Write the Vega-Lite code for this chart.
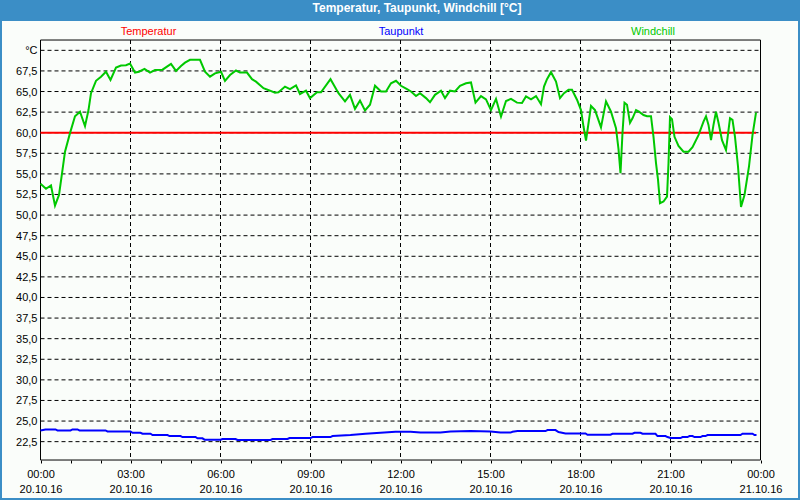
{
  "$schema": "https://vega.github.io/schema/vega-lite/v6.json",
  "background": "#3b8ec6",
  "autosize": {"type": "none"},
  "padding": {"left": 2, "right": 2, "top": 21, "bottom": 2},
  "width": 796,
  "height": 477,
  "title": {"text": "Temperatur, Taupunkt, Windchill [°C]", "color": "#ffffff", "font": "Liberation Sans", "fontSize": 12, "fontWeight": "bold", "anchor": "middle", "baseline": "middle", "offset": 1, "dx": 17, "frame": "group"},
  "datasets": {
    "grid": [{"g":22.5,"lab":"22,5"},{"g":25,"lab":"25,0"},{"g":27.5,"lab":"27,5"},{"g":30,"lab":"30,0"},{"g":32.5,"lab":"32,5"},{"g":35,"lab":"35,0"},{"g":37.5,"lab":"37,5"},{"g":40,"lab":"40,0"},{"g":42.5,"lab":"42,5"},{"g":45,"lab":"45,0"},{"g":47.5,"lab":"47,5"},{"g":50,"lab":"50,0"},{"g":52.5,"lab":"52,5"},{"g":55,"lab":"55,0"},{"g":57.5,"lab":"57,5"},{"g":60,"lab":"60,0"},{"g":62.5,"lab":"62,5"},{"g":65,"lab":"65,0"},{"g":67.5,"lab":"67,5"},{"g":70,"lab":"°C"}]
  },
  "layer": [
    {
      "data": {"name": "grid"},
      "mark": {"type": "rule", "color": "#000000", "strokeWidth": 1, "strokeDash": [4, 3]},
      "encoding": {
        "y": {"field": "g", "type": "quantitative", "axis": null},
        "x": {"datum": {"year": 2016, "month": 10, "date": 20, "hours": 0}, "type": "temporal", "axis": null},
        "x2": {"datum": {"year": 2016, "month": 10, "date": 21, "hours": 0}}
      }
    },
    {
      "data": {"name": "grid"},
      "mark": {"type": "text", "align": "right", "baseline": "middle", "dx": -3, "dy": 1, "font": "Liberation Sans", "fontSize": 11, "color": "#000000"},
      "encoding": {
        "y": {"field": "g", "type": "quantitative", "axis": null},
        "x": {"datum": {"year": 2016, "month": 10, "date": 20, "hours": 0}, "type": "temporal", "axis": null},
        "text": {"field": "lab", "type": "nominal"}
      }
    },
    {
      "data": {"values": [{"h":"2016-10-20T03:00"},{"h":"2016-10-20T06:00"},{"h":"2016-10-20T09:00"},{"h":"2016-10-20T12:00"},{"h":"2016-10-20T15:00"},{"h":"2016-10-20T18:00"},{"h":"2016-10-20T21:00"}]},
      "mark": {"type": "rule", "color": "#000000", "strokeWidth": 1, "strokeDash": [4, 3]},
      "encoding": {
        "x": {
          "field": "h", "type": "temporal",
          "axis": {
            "orient": "top", "offset": -19,
            "values": [{"year": 2016, "month": 10, "date": 20, "hours": 3, "minutes": 35}, {"year": 2016, "month": 10, "date": 20, "hours": 12, "minutes": 0}, {"year": 2016, "month": 10, "date": 20, "hours": 20, "minutes": 24}],
            "labelExpr": "hours(datum.value) == 3 ? 'Temperatur' : hours(datum.value) == 12 ? 'Taupunkt' : 'Windchill'",
            "labelColor": {"condition": [{"test": "hours(datum.value) == 3", "value": "#ff0000"}, {"test": "hours(datum.value) == 12", "value": "#0000ff"}], "value": "#00c800"},
            "ticks": false, "domain": false, "grid": false,
            "labelPadding": 6, "labelBaseline": "alphabetic",
            "labelOverlap": false, "labelFlush": false, "labelBound": false,
            "title": null
          }
        },
        "y": {"datum": 71.25, "type": "quantitative", "axis": null},
        "y2": {"datum": 20.27}
      }
    },
    {
      "data": {"values": [{"frame": "plot"}]},
      "mark": {"type": "rect", "filled": false, "stroke": "#000000", "strokeWidth": 1},
      "encoding": {
        "x": {"datum": {"year": 2016, "month": 10, "date": 20, "hours": 0}, "type": "temporal", "axis": null},
        "x2": {"datum": {"year": 2016, "month": 10, "date": 21, "hours": 0}},
        "y": {"datum": 71.25, "type": "quantitative", "axis": null},
        "y2": {"datum": 20.27}
      }
    },
    {
      "data": {"values": [
        {"t":"2016-10-20T00:00","s":"Temperatur","v":60},{"t":"2016-10-20T01:00","s":"Temperatur","v":60},{"t":"2016-10-20T02:00","s":"Temperatur","v":60},{"t":"2016-10-20T03:00","s":"Temperatur","v":60},{"t":"2016-10-20T04:00","s":"Temperatur","v":60},{"t":"2016-10-20T05:00","s":"Temperatur","v":60},{"t":"2016-10-20T06:00","s":"Temperatur","v":60},{"t":"2016-10-20T07:00","s":"Temperatur","v":60},{"t":"2016-10-20T08:00","s":"Temperatur","v":60},{"t":"2016-10-20T09:00","s":"Temperatur","v":60},{"t":"2016-10-20T10:00","s":"Temperatur","v":60},{"t":"2016-10-20T11:00","s":"Temperatur","v":60},{"t":"2016-10-20T12:00","s":"Temperatur","v":60},{"t":"2016-10-20T13:00","s":"Temperatur","v":60},{"t":"2016-10-20T14:00","s":"Temperatur","v":60},{"t":"2016-10-20T15:00","s":"Temperatur","v":60},{"t":"2016-10-20T16:00","s":"Temperatur","v":60},{"t":"2016-10-20T17:00","s":"Temperatur","v":60},{"t":"2016-10-20T18:00","s":"Temperatur","v":60},{"t":"2016-10-20T19:00","s":"Temperatur","v":60},{"t":"2016-10-20T20:00","s":"Temperatur","v":60},{"t":"2016-10-20T21:00","s":"Temperatur","v":60},{"t":"2016-10-20T22:00","s":"Temperatur","v":60},{"t":"2016-10-20T23:00","s":"Temperatur","v":60},{"t":"2016-10-20T23:51","s":"Temperatur","v":60},
        {"t":"2016-10-20T00:00","s":"Taupunkt","v":23.86},{"t":"2016-10-20T00:10","s":"Taupunkt","v":23.98},{"t":"2016-10-20T00:30","s":"Taupunkt","v":23.98},{"t":"2016-10-20T00:34","s":"Taupunkt","v":23.86},{"t":"2016-10-20T01:00","s":"Taupunkt","v":23.86},{"t":"2016-10-20T01:04","s":"Taupunkt","v":23.98},{"t":"2016-10-20T01:14","s":"Taupunkt","v":23.98},{"t":"2016-10-20T01:18","s":"Taupunkt","v":23.86},{"t":"2016-10-20T02:10","s":"Taupunkt","v":23.86},{"t":"2016-10-20T02:14","s":"Taupunkt","v":23.74},{"t":"2016-10-20T03:00","s":"Taupunkt","v":23.74},{"t":"2016-10-20T03:04","s":"Taupunkt","v":23.58},{"t":"2016-10-20T03:20","s":"Taupunkt","v":23.58},{"t":"2016-10-20T03:24","s":"Taupunkt","v":23.46},{"t":"2016-10-20T03:40","s":"Taupunkt","v":23.46},{"t":"2016-10-20T03:44","s":"Taupunkt","v":23.3},{"t":"2016-10-20T04:14","s":"Taupunkt","v":23.3},{"t":"2016-10-20T04:18","s":"Taupunkt","v":23.18},{"t":"2016-10-20T04:40","s":"Taupunkt","v":23.18},{"t":"2016-10-20T04:44","s":"Taupunkt","v":23.06},{"t":"2016-10-20T05:10","s":"Taupunkt","v":23.06},{"t":"2016-10-20T05:14","s":"Taupunkt","v":22.9},{"t":"2016-10-20T05:24","s":"Taupunkt","v":22.9},{"t":"2016-10-20T05:28","s":"Taupunkt","v":22.74},{"t":"2016-10-20T06:00","s":"Taupunkt","v":22.74},{"t":"2016-10-20T06:04","s":"Taupunkt","v":22.82},{"t":"2016-10-20T06:30","s":"Taupunkt","v":22.82},{"t":"2016-10-20T06:34","s":"Taupunkt","v":22.7},{"t":"2016-10-20T07:40","s":"Taupunkt","v":22.7},{"t":"2016-10-20T07:44","s":"Taupunkt","v":22.82},{"t":"2016-10-20T08:14","s":"Taupunkt","v":22.82},{"t":"2016-10-20T08:18","s":"Taupunkt","v":22.94},{"t":"2016-10-20T09:00","s":"Taupunkt","v":22.94},{"t":"2016-10-20T09:04","s":"Taupunkt","v":23.06},{"t":"2016-10-20T09:40","s":"Taupunkt","v":23.06},{"t":"2016-10-20T09:44","s":"Taupunkt","v":23.18},{"t":"2016-10-20T10:20","s":"Taupunkt","v":23.3},{"t":"2016-10-20T10:50","s":"Taupunkt","v":23.46},{"t":"2016-10-20T11:20","s":"Taupunkt","v":23.58},{"t":"2016-10-20T11:50","s":"Taupunkt","v":23.7},{"t":"2016-10-20T12:20","s":"Taupunkt","v":23.7},{"t":"2016-10-20T12:40","s":"Taupunkt","v":23.6},{"t":"2016-10-20T13:20","s":"Taupunkt","v":23.6},{"t":"2016-10-20T13:40","s":"Taupunkt","v":23.74},{"t":"2016-10-20T14:20","s":"Taupunkt","v":23.8},{"t":"2016-10-20T15:00","s":"Taupunkt","v":23.74},{"t":"2016-10-20T15:20","s":"Taupunkt","v":23.6},{"t":"2016-10-20T15:40","s":"Taupunkt","v":23.6},{"t":"2016-10-20T15:44","s":"Taupunkt","v":23.7},{"t":"2016-10-20T15:54","s":"Taupunkt","v":23.78},{"t":"2016-10-20T16:50","s":"Taupunkt","v":23.78},{"t":"2016-10-20T16:54","s":"Taupunkt","v":23.9},{"t":"2016-10-20T17:10","s":"Taupunkt","v":23.9},{"t":"2016-10-20T17:16","s":"Taupunkt","v":23.66},{"t":"2016-10-20T17:30","s":"Taupunkt","v":23.5},{"t":"2016-10-20T18:10","s":"Taupunkt","v":23.5},{"t":"2016-10-20T18:14","s":"Taupunkt","v":23.34},{"t":"2016-10-20T19:00","s":"Taupunkt","v":23.34},{"t":"2016-10-20T19:04","s":"Taupunkt","v":23.46},{"t":"2016-10-20T19:44","s":"Taupunkt","v":23.46},{"t":"2016-10-20T19:48","s":"Taupunkt","v":23.58},{"t":"2016-10-20T20:00","s":"Taupunkt","v":23.58},{"t":"2016-10-20T20:04","s":"Taupunkt","v":23.46},{"t":"2016-10-20T20:30","s":"Taupunkt","v":23.46},{"t":"2016-10-20T20:34","s":"Taupunkt","v":23.18},{"t":"2016-10-20T20:50","s":"Taupunkt","v":23.18},{"t":"2016-10-20T20:54","s":"Taupunkt","v":23.06},{"t":"2016-10-20T21:00","s":"Taupunkt","v":22.94},{"t":"2016-10-20T21:20","s":"Taupunkt","v":22.94},{"t":"2016-10-20T21:24","s":"Taupunkt","v":23.06},{"t":"2016-10-20T21:34","s":"Taupunkt","v":23.06},{"t":"2016-10-20T21:38","s":"Taupunkt","v":23.18},{"t":"2016-10-20T21:44","s":"Taupunkt","v":23.18},{"t":"2016-10-20T21:48","s":"Taupunkt","v":23.06},{"t":"2016-10-20T22:00","s":"Taupunkt","v":23.06},{"t":"2016-10-20T22:04","s":"Taupunkt","v":23.18},{"t":"2016-10-20T22:10","s":"Taupunkt","v":23.18},{"t":"2016-10-20T22:14","s":"Taupunkt","v":23.3},{"t":"2016-10-20T23:20","s":"Taupunkt","v":23.3},{"t":"2016-10-20T23:24","s":"Taupunkt","v":23.46},{"t":"2016-10-20T23:44","s":"Taupunkt","v":23.46},{"t":"2016-10-20T23:48","s":"Taupunkt","v":23.3},{"t":"2016-10-20T23:52","s":"Taupunkt","v":23.3},
        {"t":"2016-10-20T00:00","s":"Windchill","v":53.8},{"t":"2016-10-20T00:11","s":"Windchill","v":53.2},{"t":"2016-10-20T00:21","s":"Windchill","v":53.6},{"t":"2016-10-20T00:29","s":"Windchill","v":51.15},{"t":"2016-10-20T00:37","s":"Windchill","v":52.45},{"t":"2016-10-20T00:44","s":"Windchill","v":55.5},{"t":"2016-10-20T00:49","s":"Windchill","v":57.7},{"t":"2016-10-20T00:59","s":"Windchill","v":59.95},{"t":"2016-10-20T01:09","s":"Windchill","v":62.0},{"t":"2016-10-20T01:19","s":"Windchill","v":62.55},{"t":"2016-10-20T01:29","s":"Windchill","v":60.8},{"t":"2016-10-20T01:36","s":"Windchill","v":62.75},{"t":"2016-10-20T01:41","s":"Windchill","v":64.8},{"t":"2016-10-20T01:51","s":"Windchill","v":66.3},{"t":"2016-10-20T02:01","s":"Windchill","v":66.8},{"t":"2016-10-20T02:11","s":"Windchill","v":67.4},{"t":"2016-10-20T02:20","s":"Windchill","v":66.4},{"t":"2016-10-20T02:31","s":"Windchill","v":67.9},{"t":"2016-10-20T02:41","s":"Windchill","v":68.15},{"t":"2016-10-20T02:51","s":"Windchill","v":68.2},{"t":"2016-10-20T02:59","s":"Windchill","v":68.4},{"t":"2016-10-20T03:09","s":"Windchill","v":67.3},{"t":"2016-10-20T03:17","s":"Windchill","v":67.4},{"t":"2016-10-20T03:28","s":"Windchill","v":67.75},{"t":"2016-10-20T03:39","s":"Windchill","v":67.3},{"t":"2016-10-20T03:49","s":"Windchill","v":67.6},{"t":"2016-10-20T04:04","s":"Windchill","v":67.65},{"t":"2016-10-20T04:21","s":"Windchill","v":68.35},{"t":"2016-10-20T04:31","s":"Windchill","v":67.5},{"t":"2016-10-20T04:41","s":"Windchill","v":68.1},{"t":"2016-10-20T04:49","s":"Windchill","v":68.5},{"t":"2016-10-20T04:59","s":"Windchill","v":68.85},{"t":"2016-10-20T05:19","s":"Windchill","v":68.85},{"t":"2016-10-20T05:29","s":"Windchill","v":67.4},{"t":"2016-10-20T05:39","s":"Windchill","v":66.8},{"t":"2016-10-20T05:49","s":"Windchill","v":67.2},{"t":"2016-10-20T06:01","s":"Windchill","v":67.4},{"t":"2016-10-20T06:09","s":"Windchill","v":66.3},{"t":"2016-10-20T06:19","s":"Windchill","v":67.0},{"t":"2016-10-20T06:31","s":"Windchill","v":67.55},{"t":"2016-10-20T06:39","s":"Windchill","v":67.3},{"t":"2016-10-20T06:53","s":"Windchill","v":67.3},{"t":"2016-10-20T07:03","s":"Windchill","v":66.5},{"t":"2016-10-20T07:11","s":"Windchill","v":66.2},{"t":"2016-10-20T07:26","s":"Windchill","v":65.4},{"t":"2016-10-20T07:39","s":"Windchill","v":65.1},{"t":"2016-10-20T07:49","s":"Windchill","v":64.85},{"t":"2016-10-20T07:56","s":"Windchill","v":64.9},{"t":"2016-10-20T08:09","s":"Windchill","v":65.6},{"t":"2016-10-20T08:19","s":"Windchill","v":65.3},{"t":"2016-10-20T08:31","s":"Windchill","v":65.75},{"t":"2016-10-20T08:39","s":"Windchill","v":64.7},{"t":"2016-10-20T08:51","s":"Windchill","v":65.1},{"t":"2016-10-20T08:59","s":"Windchill","v":64.2},{"t":"2016-10-20T09:13","s":"Windchill","v":64.9},{"t":"2016-10-20T09:21","s":"Windchill","v":64.9},{"t":"2016-10-20T09:40","s":"Windchill","v":66.5},{"t":"2016-10-20T09:56","s":"Windchill","v":64.8},{"t":"2016-10-20T10:09","s":"Windchill","v":63.8},{"t":"2016-10-20T10:19","s":"Windchill","v":64.6},{"t":"2016-10-20T10:29","s":"Windchill","v":62.9},{"t":"2016-10-20T10:39","s":"Windchill","v":63.9},{"t":"2016-10-20T10:49","s":"Windchill","v":62.7},{"t":"2016-10-20T10:59","s":"Windchill","v":63.4},{"t":"2016-10-20T11:09","s":"Windchill","v":65.7},{"t":"2016-10-20T11:21","s":"Windchill","v":65.0},{"t":"2016-10-20T11:31","s":"Windchill","v":65.0},{"t":"2016-10-20T11:41","s":"Windchill","v":66.0},{"t":"2016-10-20T11:51","s":"Windchill","v":66.3},{"t":"2016-10-20T12:01","s":"Windchill","v":65.7},{"t":"2016-10-20T12:13","s":"Windchill","v":65.3},{"t":"2016-10-20T12:21","s":"Windchill","v":65.0},{"t":"2016-10-20T12:31","s":"Windchill","v":64.45},{"t":"2016-10-20T12:39","s":"Windchill","v":64.8},{"t":"2016-10-20T12:51","s":"Windchill","v":64.2},{"t":"2016-10-20T12:59","s":"Windchill","v":63.7},{"t":"2016-10-20T13:09","s":"Windchill","v":64.6},{"t":"2016-10-20T13:21","s":"Windchill","v":65.1},{"t":"2016-10-20T13:29","s":"Windchill","v":64.2},{"t":"2016-10-20T13:39","s":"Windchill","v":65.1},{"t":"2016-10-20T13:49","s":"Windchill","v":65.0},{"t":"2016-10-20T13:59","s":"Windchill","v":65.7},{"t":"2016-10-20T14:11","s":"Windchill","v":66.0},{"t":"2016-10-20T14:21","s":"Windchill","v":66.1},{"t":"2016-10-20T14:25","s":"Windchill","v":65.0},{"t":"2016-10-20T14:30","s":"Windchill","v":63.65},{"t":"2016-10-20T14:41","s":"Windchill","v":64.45},{"t":"2016-10-20T14:51","s":"Windchill","v":64.05},{"t":"2016-10-20T15:01","s":"Windchill","v":62.75},{"t":"2016-10-20T15:11","s":"Windchill","v":64.1},{"t":"2016-10-20T15:21","s":"Windchill","v":61.95},{"t":"2016-10-20T15:31","s":"Windchill","v":63.85},{"t":"2016-10-20T15:41","s":"Windchill","v":64.1},{"t":"2016-10-20T15:53","s":"Windchill","v":63.65},{"t":"2016-10-20T16:03","s":"Windchill","v":63.6},{"t":"2016-10-20T16:11","s":"Windchill","v":64.4},{"t":"2016-10-20T16:21","s":"Windchill","v":64.05},{"t":"2016-10-20T16:31","s":"Windchill","v":64.45},{"t":"2016-10-20T16:41","s":"Windchill","v":63.45},{"t":"2016-10-20T16:47","s":"Windchill","v":65.6},{"t":"2016-10-20T16:53","s":"Windchill","v":66.5},{"t":"2016-10-20T17:01","s":"Windchill","v":67.35},{"t":"2016-10-20T17:11","s":"Windchill","v":66.2},{"t":"2016-10-20T17:19","s":"Windchill","v":64.2},{"t":"2016-10-20T17:27","s":"Windchill","v":64.8},{"t":"2016-10-20T17:36","s":"Windchill","v":65.2},{"t":"2016-10-20T17:43","s":"Windchill","v":65.2},{"t":"2016-10-20T17:53","s":"Windchill","v":64.0},{"t":"2016-10-20T18:01","s":"Windchill","v":62.75},{"t":"2016-10-20T18:06","s":"Windchill","v":60.75},{"t":"2016-10-20T18:11","s":"Windchill","v":59.05},{"t":"2016-10-20T18:16","s":"Windchill","v":61.15},{"t":"2016-10-20T18:21","s":"Windchill","v":63.25},{"t":"2016-10-20T18:29","s":"Windchill","v":62.75},{"t":"2016-10-20T18:41","s":"Windchill","v":60.65},{"t":"2016-10-20T18:51","s":"Windchill","v":63.8},{"t":"2016-10-20T19:01","s":"Windchill","v":62.55},{"t":"2016-10-20T19:11","s":"Windchill","v":60.55},{"t":"2016-10-20T19:16","s":"Windchill","v":58.0},{"t":"2016-10-20T19:20","s":"Windchill","v":55.1},{"t":"2016-10-20T19:24","s":"Windchill","v":60.0},{"t":"2016-10-20T19:28","s":"Windchill","v":63.65},{"t":"2016-10-20T19:33","s":"Windchill","v":63.4},{"t":"2016-10-20T19:39","s":"Windchill","v":61.2},{"t":"2016-10-20T19:44","s":"Windchill","v":61.75},{"t":"2016-10-20T19:51","s":"Windchill","v":62.75},{"t":"2016-10-20T19:57","s":"Windchill","v":62.55},{"t":"2016-10-20T20:06","s":"Windchill","v":62.15},{"t":"2016-10-20T20:13","s":"Windchill","v":62.0},{"t":"2016-10-20T20:21","s":"Windchill","v":62.0},{"t":"2016-10-20T20:26","s":"Windchill","v":59.5},{"t":"2016-10-20T20:31","s":"Windchill","v":56.3},{"t":"2016-10-20T20:35","s":"Windchill","v":54.3},{"t":"2016-10-20T20:39","s":"Windchill","v":51.45},{"t":"2016-10-20T20:46","s":"Windchill","v":51.65},{"t":"2016-10-20T20:53","s":"Windchill","v":52.25},{"t":"2016-10-20T20:56","s":"Windchill","v":56.3},{"t":"2016-10-20T20:59","s":"Windchill","v":61.9},{"t":"2016-10-20T21:03","s":"Windchill","v":61.65},{"t":"2016-10-20T21:08","s":"Windchill","v":59.5},{"t":"2016-10-20T21:16","s":"Windchill","v":58.4},{"t":"2016-10-20T21:26","s":"Windchill","v":57.7},{"t":"2016-10-20T21:36","s":"Windchill","v":57.7},{"t":"2016-10-20T21:44","s":"Windchill","v":58.25},{"t":"2016-10-20T21:56","s":"Windchill","v":59.7},{"t":"2016-10-20T22:06","s":"Windchill","v":61.35},{"t":"2016-10-20T22:11","s":"Windchill","v":62.0},{"t":"2016-10-20T22:16","s":"Windchill","v":60.95},{"t":"2016-10-20T22:21","s":"Windchill","v":59.1},{"t":"2016-10-20T22:26","s":"Windchill","v":60.95},{"t":"2016-10-20T22:31","s":"Windchill","v":62.55},{"t":"2016-10-20T22:36","s":"Windchill","v":61.2},{"t":"2016-10-20T22:43","s":"Windchill","v":59.1},{"t":"2016-10-20T22:51","s":"Windchill","v":57.9},{"t":"2016-10-20T22:59","s":"Windchill","v":61.75},{"t":"2016-10-20T23:04","s":"Windchill","v":61.55},{"t":"2016-10-20T23:09","s":"Windchill","v":59.5},{"t":"2016-10-20T23:15","s":"Windchill","v":55.9},{"t":"2016-10-20T23:21","s":"Windchill","v":51.0},{"t":"2016-10-20T23:28","s":"Windchill","v":52.45},{"t":"2016-10-20T23:37","s":"Windchill","v":55.9},{"t":"2016-10-20T23:44","s":"Windchill","v":59.7},{"t":"2016-10-20T23:51","s":"Windchill","v":62.45}
      ]},
      "mark": {"type": "line", "strokeWidth": 2},
      "encoding": {
        "x": {
          "field": "t", "type": "temporal",
          "scale": {"domain": [{"year": 2016, "month": 10, "date": 19, "hours": 22, "minutes": 43}, {"year": 2016, "month": 10, "date": 21, "hours": 1, "minutes": 15}], "nice": false},
          "axis": {
            "orient": "bottom", "offset": -38,
            "values": [
              {"year":2016,"month":10,"date":20,"hours":0},{"year":2016,"month":10,"date":20,"hours":1},{"year":2016,"month":10,"date":20,"hours":2},{"year":2016,"month":10,"date":20,"hours":3},{"year":2016,"month":10,"date":20,"hours":4},{"year":2016,"month":10,"date":20,"hours":5},{"year":2016,"month":10,"date":20,"hours":6},{"year":2016,"month":10,"date":20,"hours":7},{"year":2016,"month":10,"date":20,"hours":8},{"year":2016,"month":10,"date":20,"hours":9},{"year":2016,"month":10,"date":20,"hours":10},{"year":2016,"month":10,"date":20,"hours":11},{"year":2016,"month":10,"date":20,"hours":12},{"year":2016,"month":10,"date":20,"hours":13},{"year":2016,"month":10,"date":20,"hours":14},{"year":2016,"month":10,"date":20,"hours":15},{"year":2016,"month":10,"date":20,"hours":16},{"year":2016,"month":10,"date":20,"hours":17},{"year":2016,"month":10,"date":20,"hours":18},{"year":2016,"month":10,"date":20,"hours":19},{"year":2016,"month":10,"date":20,"hours":20},{"year":2016,"month":10,"date":20,"hours":21},{"year":2016,"month":10,"date":20,"hours":22},{"year":2016,"month":10,"date":20,"hours":23},{"year":2016,"month":10,"date":21,"hours":0}
            ],
            "labelExpr": "hours(datum.value) % 3 == 0 ? [timeFormat(datum.value, '%H:%M'), timeFormat(datum.value, '%d.%m.%y')] : ''",
            "labelOverlap": false, "labelFlush": false, "labelBound": false,
            "labelPadding": 5, "labelLineHeight": 15.5, "labelBaseline": "top",
            "ticks": true, "tickSize": 3, "tickColor": "#000000", "tickWidth": 1,
            "domain": false, "grid": false, "title": null
          }
        },
        "y": {
          "field": "v", "type": "quantitative",
          "scale": {"domain": [15.66, 73.56], "nice": false, "zero": false},
          "axis": null
        },
        "color": {
          "field": "s", "type": "nominal",
          "scale": {"domain": ["Temperatur", "Taupunkt", "Windchill"], "range": ["#ff0000", "#0000ff", "#00c800"]},
          "legend": null
        }
      }
    }
  ],
  "resolve": {"axis": {"x": "independent"}},
  "config": {
    "font": "Liberation Sans",
    "view": {"fill": "#fafdfa", "stroke": null},
    "axis": {"labelFont": "Liberation Sans", "labelFontSize": 11, "labelColor": "#000000"}
  }
}
